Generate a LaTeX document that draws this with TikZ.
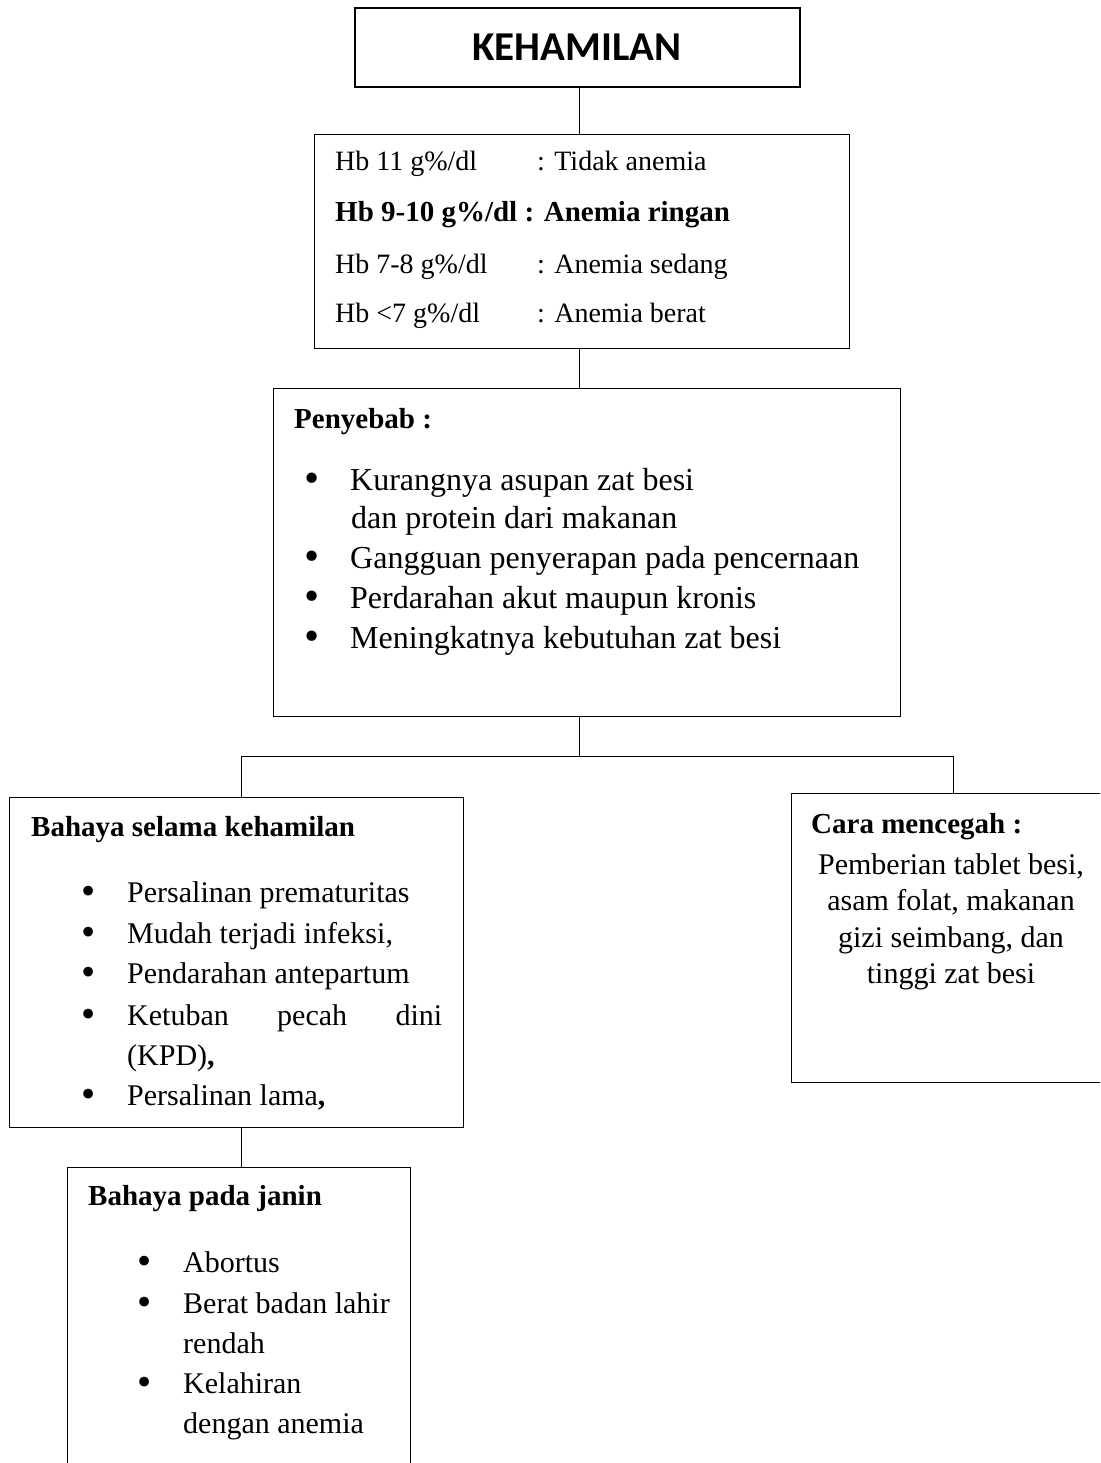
\documentclass[tikz,border=0pt]{standalone}
\usepackage{fontspec}
\setmainfont{Liberation Serif}
\newfontfamily\titlefont{Carlito}
\usepackage{tikz}
\usetikzlibrary{positioning, calc}

\newcommand{\bitem}[1]{\makebox[46pt][l]{\raisebox{-0.07em}{\scalebox{1.35}{\textbullet}}}#1}

\begin{document}
\begin{tikzpicture}[x=1pt, y=-1pt, line join=miter,
    frame/.style={draw, line width=1.3pt, inner sep=0pt, anchor=north west},
    link/.style={line width=1pt},
    txt/.style={anchor=base west, inner sep=0pt},
    hbtxt/.style={txt, font=\fontsize{28}{34}\selectfont},
    causetxt/.style={txt, font=\fontsize{32}{38}\selectfont},
    itemtxt/.style={txt, font=\fontsize{30}{36}\selectfont},
    headtxt/.style={txt, font=\fontsize{29}{35}\selectfont\bfseries}]
  \useasboundingbox (0,0) rectangle (1100,1463);
  \clip (0,0) rectangle (1100,1463);

  % frames
  \node[frame, line width=2pt, minimum width=445pt, minimum height=79pt] (kehamilan) at (354,7) {};
  \node[frame, minimum width=535pt, minimum height=214pt] (hbbox) at (314,134) {};
  \node[frame, minimum width=627pt, minimum height=328pt] (penyebab) at (273,388) {};
  \node[frame, minimum width=454pt, minimum height=330pt] (bahaya) at (9,797) {};
  \node[frame, minimum width=319pt, minimum height=289pt] (cegah) at (791,793) {};
  \node[frame, minimum width=343pt, minimum height=340pt] (janin) at (67,1167) {};

  % connectors
  \coordinate (spine) at (579,0);
  \coordinate (split) at (579,756);
  \coordinate (lefttap) at (241,756);
  \coordinate (righttap) at (953,756);
  \draw[link] (kehamilan.south -| spine) -- (hbbox.north -| spine);
  \draw[link] (hbbox.south -| spine) -- (penyebab.north -| spine);
  \draw[link] (penyebab.south -| spine) -- (split);
  \draw[link] (bahaya.north -| lefttap) |- (righttap) -- (cegah.north -| righttap);
  \draw[link] (bahaya.south -| lefttap) -- (janin.north -| lefttap);

  % title
  \node[inner sep=0pt, font=\titlefont\fontsize{41}{41}\selectfont\bfseries] (judul) at (577,47) {KEHAMILAN};

  % hb levels
  \node[hbtxt] (hbA) at (335,171) {Hb 11 g\%/dl};
  \node[hbtxt] (hbAr) at (537,171) {: Tidak anemia};
  \node[hbtxt, font=\fontsize{29}{34}\selectfont\bfseries] (hbB) at (335,222) {Hb 9-10 g\%/dl : Anemia ringan};
  \node[hbtxt] (hbC) at (335,273) {Hb 7-8 g\%/dl};
  \node[hbtxt] (hbCr) at (537,273) {: Anemia sedang};
  \node[hbtxt] (hbD) at (335,322) {Hb <7 g\%/dl};
  \node[hbtxt] (hbDr) at (537,322) {: Anemia berat};

  % penyebab
  \node[headtxt] (sebabjudul) at (294,428) {Penyebab :};
  \node[causetxt] (sebab1) at (304,490) {\bitem{Kurangnya asupan zat besi}};
  \node[causetxt] (sebab1b) at (351,528) {dan protein dari makanan};
  \node[causetxt] (sebab2) at (304,568) {\bitem{Gangguan penyerapan pada pencernaan}};
  \node[causetxt] (sebab3) at (304,608) {\bitem{Perdarahan akut maupun kronis}};
  \node[causetxt] (sebab4) at (304,648) {\bitem{Meningkatnya kebutuhan zat besi}};

  % bahaya selama kehamilan
  \node[headtxt] (bahayajudul) at (31,836) {Bahaya selama kehamilan};
  \node[itemtxt] (bahaya1) at (81,902) {\bitem{Persalinan prematuritas}};
  \node[itemtxt] (bahaya2) at (81,943) {\bitem{Mudah terjadi infeksi,}};
  \node[itemtxt] (bahaya3) at (81,983) {\bitem{Pendarahan antepartum}};
  \node[itemtxt] (bahaya4) at (81,1025) {\bitem{\makebox[315pt][s]{Ketuban\hfill pecah\hfill dini}}};
  \node[itemtxt] (bahaya4b) at (127,1065) {(KPD)\textbf{,}};
  \node[itemtxt] (bahaya5) at (81,1105) {\bitem{Persalinan lama\textbf{,}}};

  % cara mencegah
  \node[headtxt] (cegahjudul) at (811,833) {Cara mencegah :};
  \node[itemtxt, anchor=base] (cegah1) at (951,874) {Pemberian tablet besi,};
  \node[itemtxt, anchor=base] (cegah2) at (951,910) {asam folat, makanan};
  \node[itemtxt, anchor=base] (cegah3) at (951,947) {gizi seimbang, dan};
  \node[itemtxt, anchor=base] (cegah4) at (951,983) {tinggi zat besi};

  % bahaya pada janin
  \node[headtxt] (janinjudul) at (88,1205) {Bahaya pada janin};
  \node[itemtxt] (janin1) at (137,1272) {\bitem{Abortus}};
  \node[itemtxt] (janin2) at (137,1313) {\bitem{Berat badan lahir}};
  \node[itemtxt] (janin2b) at (183,1353) {rendah};
  \node[itemtxt] (janin3) at (137,1393) {\bitem{Kelahiran}};
  \node[itemtxt] (janin3b) at (183,1433) {dengan anemia};
\end{tikzpicture}
\end{document}
